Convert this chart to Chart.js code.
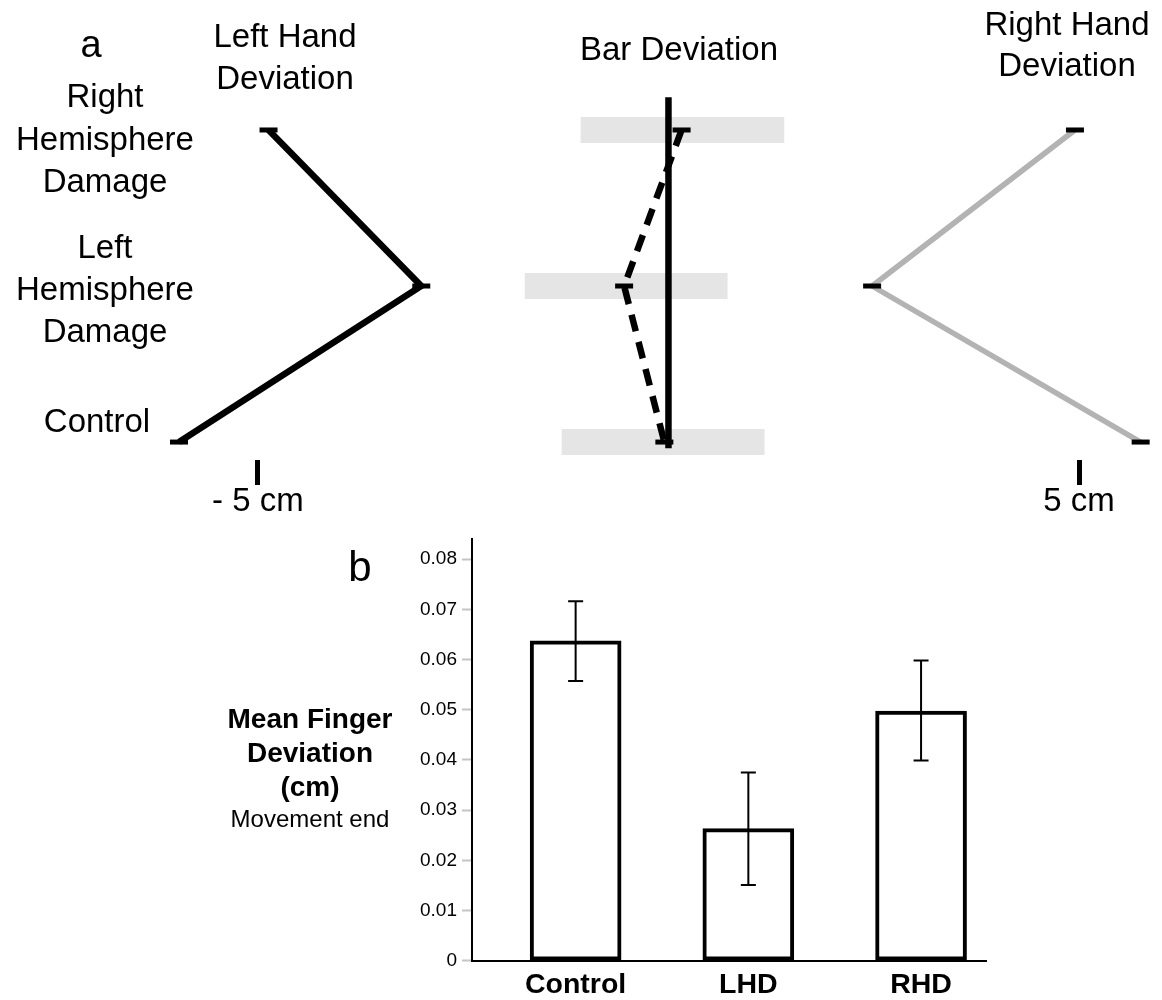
<!DOCTYPE html>
<html><head><meta charset="utf-8">
<script src="https://cdn.jsdelivr.net/npm/chart.js@4.4.0/dist/chart.umd.min.js"></script>
<style>
html,body{margin:0;padding:0;background:#fff;}
body{width:1162px;height:1000px;position:relative;overflow:hidden;font-family:"Liberation Sans",Arial,Helvetica,sans-serif;color:#000;}
.t{position:absolute;white-space:nowrap;text-align:center;transform:translateX(-50%);}
#ca{position:absolute;left:0;top:0;}
#cb{position:absolute;left:0;top:530px;}
</style></head><body>
<canvas id="ca" width="1162" height="530"></canvas>
<canvas id="cb" width="1162" height="470"></canvas>
<script>
// ---------- Panel a data (cm) ----------
const groupsA = [['Right','Hemisphere','Damage'], ['Left','Hemisphere','Damage'], ['Control']];
const rowPos = [2, 1, 0];
const leftHandDev = [-4.87, -3.01, -5.96];
const rightHandDev = [4.95, 2.48, 5.75];
const barDevMean = [0.16, -0.54, -0.05];
const barDevLow = [-1.07, -1.75, -1.30];
const barDevHigh = [1.41, 0.72, 1.17];
const barLineSpan = [-0.04, 2.21];
const scaleTicksA = [-5, 5];
const scaleTickLabelsA = ['- 5 cm', '5 cm'];
const titlesA = [['Left Hand','Deviation'], ['Bar Deviation'], ['Right Hand','Deviation']];

// ---------- Panel b data ----------
const groupsB = ['Control', 'LHD', 'RHD'];
const meanFingerDev = [0.0637, 0.0263, 0.0497];
const errLow = [0.0557, 0.0151, 0.0399];
const errHigh = [0.0716, 0.0375, 0.0598];
const yTicksB = [0, 0.01, 0.02, 0.03, 0.04, 0.05, 0.06, 0.07, 0.08];
const yTickLabelsB = ['0', '0.01', '0.02', '0.03', '0.04', '0.05', '0.06', '0.07', '0.08'];

const FONT = '"Liberation Sans", Arial, Helvetica, sans-serif';
Chart.defaults.font.family = FONT;
Chart.defaults.color = '#000';

function addText(lines, cx, baseline, size, lh, weight) {
  const d = document.createElement('div');
  d.className = 't';
  d.style.left = cx + 'px';
  d.style.top = (baseline - lh / 2 - 0.3465 * size) + 'px';
  d.style.fontSize = size + 'px';
  d.style.lineHeight = lh + 'px';
  d.style.fontWeight = weight || 'normal';
  d.innerHTML = lines.join('<br>');
  document.body.appendChild(d);
}

// ---------- Panel a chart ----------
const pts = xs => xs.map((x, i) => ({x: x, y: rowPos[i]}));
const rangeSets = rowPos.map((r, i) => ({
  data: [{x: barDevLow[i], y: r}, {x: barDevHigh[i], y: r}],
  borderColor: '#e5e5e5', borderWidth: 26, borderCapStyle: 'butt', pointRadius: 0, order: 10
}));
const markerOpts = {pointStyle: 'line', pointRadius: 9, pointBorderWidth: 5, pointBorderColor: '#000', pointBackgroundColor: '#000'};

new Chart(document.getElementById('ca'), {
  type: 'line',
  data: {datasets: [
    ...rangeSets,
    {data: barLineSpan.map(v => ({x: 0, y: v})), borderColor: '#000', borderWidth: 6.5, borderCapStyle: 'butt', pointRadius: 0, order: 5},
    Object.assign({data: pts(barDevMean), borderColor: '#000', borderWidth: 6.5, borderDash: [17, 11], order: 4}, markerOpts),
    Object.assign({data: pts(leftHandDev), borderColor: '#000', borderWidth: 6.5, order: 3}, markerOpts),
    Object.assign({data: pts(rightHandDev), borderColor: '#b3b3b3', borderWidth: 5.5, order: 2}, markerOpts)
  ]},
  options: {
    responsive: false, animation: false, events: [],
    layout: {padding: 0, autoPadding: false},
    plugins: {legend: {display: false}, tooltip: {enabled: false}},
    scales: {
      x: {
        type: 'linear', min: -8.14, max: 6.01,
        afterBuildTicks: s => { s.ticks = scaleTicksA.map(v => ({value: v})); },
        afterFit: s => { s.height = 70; s.paddingLeft = 0; s.paddingRight = 0; },
        border: {display: false},
        grid: {drawOnChartArea: false, tickLength: 25, tickWidth: 5, tickColor: '#000'},
        ticks: {callback: v => scaleTickLabelsA[scaleTicksA.indexOf(v)], font: {size: 33, lineHeight: 1}, color: '#000', padding: 0, maxRotation: 0, autoSkip: false}
      },
      y: {type: 'linear', display: false, min: -0.115, max: 2.833}
    }
  }
});

// ---------- Panel b chart ----------
const errSets = meanFingerDev.map((v, i) => ({
  type: 'line', data: [{x: i, y: errLow[i]}, {x: i, y: errHigh[i]}],
  borderColor: '#000', borderWidth: 2, pointStyle: 'line', pointRadius: 7.5, pointBorderWidth: 2,
  pointBorderColor: '#000', pointBackgroundColor: '#000', order: 0
}));

new Chart(document.getElementById('cb'), {
  type: 'bar',
  data: {datasets: [
    {type: 'bar', data: meanFingerDev.map((v, i) => ({x: i, y: v})), backgroundColor: '#fff', borderColor: '#000', borderWidth: 4, borderSkipped: false, barThickness: 91, order: 1},
    ...errSets
  ]},
  options: {
    responsive: false, animation: false, events: [],
    layout: {padding: {left: 0, right: 176, top: 9, bottom: 0}, autoPadding: false},
    plugins: {legend: {display: false}, tooltip: {enabled: false}},
    scales: {
      x: {
        type: 'linear', min: -0.6, max: 2.376, offset: false,
        afterBuildTicks: s => { s.ticks = groupsB.map((g, i) => ({value: i})); },
        afterFit: s => { s.height = 39.3; s.paddingLeft = 0; s.paddingRight = 0; },
        grid: {display: false, drawTicks: false},
        border: {display: true, color: '#000', width: 2},
        ticks: {callback: v => groupsB[v], font: {size: 28.5, weight: 'bold', lineHeight: 1}, color: '#000', padding: 10, autoSkip: false, maxRotation: 0}
      },
      y: {
        type: 'linear', min: 0, max: 0.084,
        afterBuildTicks: s => { s.ticks = yTicksB.map(v => ({value: v})); },
        afterFit: s => { s.width = 472; s.paddingTop = 0; s.paddingBottom = 0; },
        border: {display: true, color: '#000', width: 2},
        grid: {drawOnChartArea: false, tickLength: 10, tickColor: '#c4c4c4', tickWidth: 2},
        ticks: {callback: (v, i) => yTickLabelsB[i], font: {size: 19}, color: '#000', padding: 5}
      }
    }
  }
});

// ---------- Text ----------
addText(['a'], 91, 57, 38, 38);
addText(titlesA[0], 285, 47, 33, 42);
addText(titlesA[1], 679, 60, 33, 42);
addText(titlesA[2], 1067, 35, 33, 41);
addText(groupsA[0], 105, 108, 33, 42.5);
addText(groupsA[1], 105, 258, 33, 42);
addText(groupsA[2], 97, 432, 33, 42);
addText(['b'], 360, 582, 42, 42);
addText(['Mean Finger', 'Deviation', '(cm)'], 310, 729, 28, 34, 'bold');
addText(['Movement end'], 310, 827, 24, 28);
</script>
</body></html>
